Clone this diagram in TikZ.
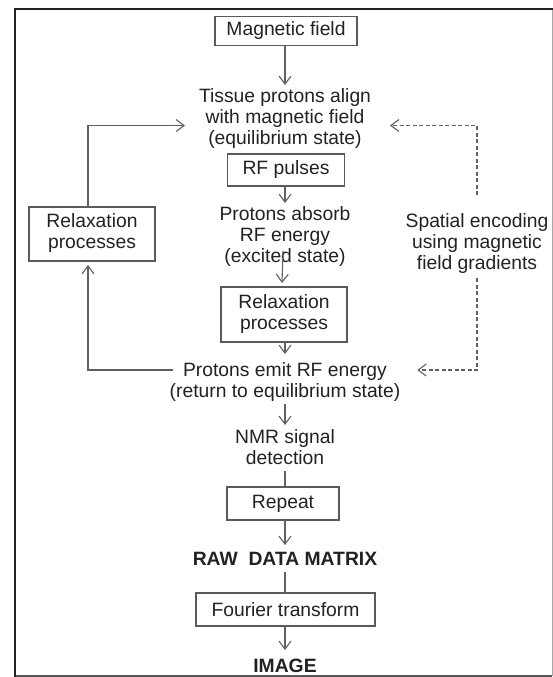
\documentclass[tikz,border=0pt]{standalone}
\usepackage{fontspec}
\setmainfont{Liberation Sans}
\usetikzlibrary{arrows.meta}
\definecolor{txt}{HTML}{222222}
\definecolor{boxc}{HTML}{5A5A5A}
\definecolor{linec}{HTML}{606060}
\definecolor{framedark}{HTML}{222222}
\definecolor{framelight}{HTML}{A8A8A8}
\begin{document}
\begin{tikzpicture}[x=1pt,y=-1pt,
  every node/.style={font=\fontsize{19.3}{21}\selectfont, text=txt,
    inner sep=0pt, outer sep=0pt, align=center},
  box/.style={draw=boxc, line width=1.2pt},
  label/.style={anchor=north},
  conn/.style={draw=linec, line width=1.1pt},
  tip/.style={conn, -{Straight Barb[length=8pt,width=12pt]}},
  dashtip/.style={tip, dash pattern=on 4pt off 2.5pt},
]
% page and frame
\useasboundingbox (0,0) rectangle (553,677);
\fill[white] (0,0) rectangle (553,677);
\draw[framelight, line width=1pt] (552,9) -- (552,676);
\draw[boxc, line width=1.5pt] (15,676) -- (552,676);
\draw[framedark, line width=2.4pt] (15,677) -- (15,9) -- (553,9);

% main column
\node[box, minimum width=142pt, minimum height=29pt] (mag) at (286,31) {Magnetic field};
\node[label] (tissue) at (285,88) {\strut Tissue protons align\\\strut with magnetic field\\\strut (equilibrium state)};
\node[box, minimum width=117pt, minimum height=32pt] (rf) at (286,170) {RF pulses};
\node[label] (absorb) at (285,206) {\strut Protons absorb\\\strut RF energy\\\strut (excited state)};
\node[box, minimum width=126pt, minimum height=55pt] (relax) at (284,314.5) {\strut Relaxation\\\strut processes};
\node[label] (emit) at (285,362) {\strut Protons emit RF energy\\\strut (return to equilibrium state)};
\node[label] (nmr) at (285,429) {\strut NMR signal\\\strut detection};
\node[box, minimum width=112pt, minimum height=33pt] (repeat) at (283,503.5) {Repeat};
\node[label, font=\fontsize{19.3}{21}\selectfont\bfseries] (raw) at (285,551) {\strut RAW\ \ DATA MATRIX};
\node[box, minimum width=179pt, minimum height=33pt] (fourier) at (285.5,609.5) {Fourier transform};
\node[label, font=\fontsize{19.3}{21}\selectfont\bfseries] (image) at (285,658) {\strut IMAGE};

% side nodes
\node[box, minimum width=126pt, minimum height=54pt] (lrelax) at (92,234) {\strut Relaxation\\\strut processes};
\node[label] (spatial) at (477,213) {\strut Spatial encoding\\\strut using magnetic\\\strut field gradients};

% main flow
\draw[tip] (mag.south -| 285,0) -- ([yshift=3pt]tissue.north);
\draw[tip] (rf.south -| 285,0) -- ([yshift=3pt]absorb.north);
\draw[tip] ([xshift=-2pt,yshift=18pt]absorb.south) -- ([xshift=-2pt,yshift=4pt]relax.north);
\draw[tip] (relax.south -| 285,0) -- ([yshift=8pt]emit.north);
\draw[tip] (emit.south) -- ([yshift=4pt]nmr.north);
\draw[conn] (nmr.south) -- (repeat.north -| 285,0);
\draw[tip] (repeat.south -| 285,0) -- ([yshift=6pt]raw.north);
\draw[conn] (raw.south) -- (fourier.north -| 285,0);
\draw[tip] (fourier.south -| 285,0) -- ([yshift=8pt]image.north);

% relaxation loop on the left
\draw[tip, shorten >=4pt] ([xshift=3pt,yshift=13pt]emit.west) -| ([xshift=-4pt]lrelax.south);
\draw[tip] ([xshift=-4pt]lrelax.north) |- ([xshift=-14pt,yshift=-6pt]tissue.east -| tissue.west);

% gradient encoding on the right
\draw[dashtip] ([yshift=18pt]spatial.north) |- ([xshift=19pt,yshift=-6pt]tissue.east);
\draw[dashtip] ([yshift=-2pt]spatial.south) |- ([xshift=17pt,yshift=13pt]emit.east);
\end{tikzpicture}
\end{document}
